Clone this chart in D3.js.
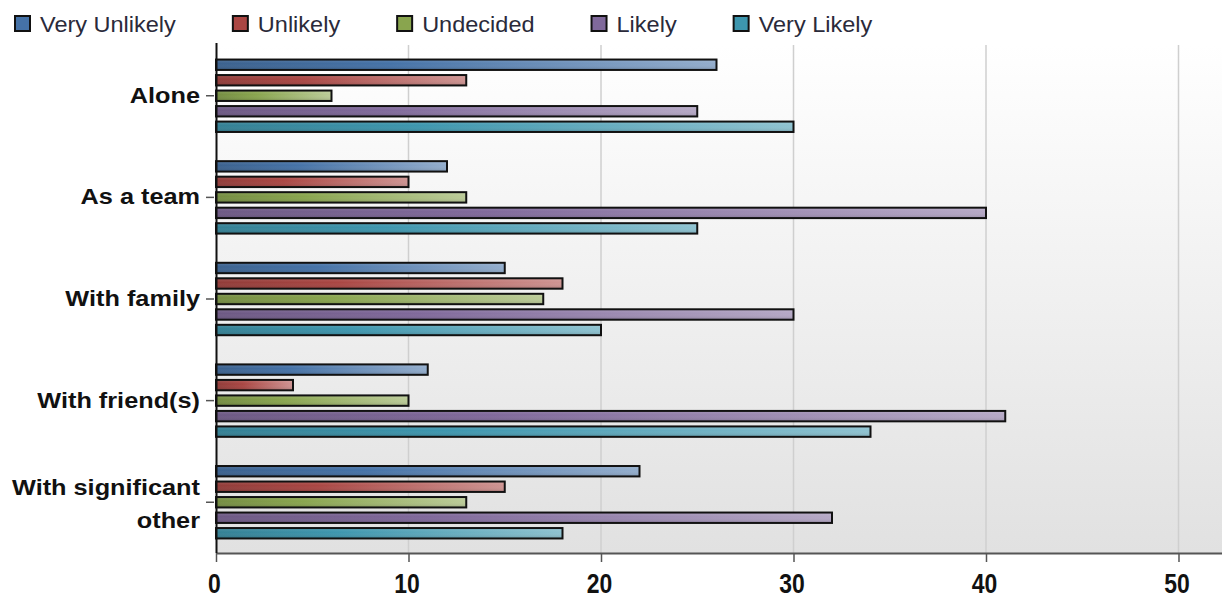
<!DOCTYPE html>
<html>
<head>
<meta charset="utf-8">
<script src="https://cdn.jsdelivr.net/npm/d3@7/dist/d3.min.js"></script>
<style>
  html, body { margin: 0; padding: 0; background: #fff; }
  svg { display: block; font-family: "Liberation Sans", Arial, sans-serif; }
</style>
</head>
<body>
<svg id="chart" width="1224" height="602"></svg>
<script>
// Survey answers: how likely respondents are to take part, by setting
const categories = ["Alone", "As a team", "With family", "With friend(s)", "With significant other"];
const seriesNames = ["Very Unlikely", "Unlikely", "Undecided", "Likely", "Very Likely"];
const veryUnlikely = [26, 12, 15, 11, 22];
const unlikely     = [13, 10, 18, 4, 15];
const undecided    = [6, 13, 17, 10, 13];
const likely       = [25, 40, 30, 41, 32];
const veryLikely   = [30, 25, 20, 34, 18];
const xTicks = [0, 10, 20, 30, 40, 50];

const seriesValues = [veryUnlikely, unlikely, undecided, likely, veryLikely];
const baseColors = ["#4572A7", "#AA4643", "#89A54E", "#80699B", "#3D96AE"];

const svg = d3.select("#chart");
const margin = { left: 216, right: 2, top: 45, bottom: 49 };
const W = 1224, H = 602;
const plotBottom = H - margin.bottom;

const x = d3.scaleLinear().domain([0, 52.26]).range([margin.left, W - margin.right]);
const y0 = d3.scaleBand().domain(categories).range([margin.top, plotBottom]).paddingInner(0.237).paddingOuter(0.118);
const y1 = d3.scaleBand().domain(seriesNames).range([0, y0.bandwidth()]).paddingInner(0.2).paddingOuter(0.1);

const defs = svg.append("defs");

// plot area background fades from white to light grey
const bg = defs.append("linearGradient").attr("id", "plotBg")
  .attr("x1", 0).attr("y1", 0).attr("x2", 0).attr("y2", 1);
bg.append("stop").attr("offset", "0%").attr("stop-color", "#ffffff");
bg.append("stop").attr("offset", "100%").attr("stop-color", "#e1e1e1");

// horizontal gradient per series: darker at the base, lighter at the tip
baseColors.forEach((c, i) => {
  const g = defs.append("linearGradient").attr("id", "barGrad" + i)
    .attr("x1", 0).attr("y1", 0).attr("x2", 1).attr("y2", 0);
  g.append("stop").attr("offset", "0%").attr("stop-color", d3.color(c).darker(0.45));
  g.append("stop").attr("offset", "35%").attr("stop-color", c);
  g.append("stop").attr("offset", "100%").attr("stop-color", d3.interpolateRgb(c, "#ffffff")(0.42));
});
// slight shading towards the bottom edge of each bar
const hl = defs.append("linearGradient").attr("id", "barShine")
  .attr("x1", 0).attr("y1", 0).attr("x2", 0).attr("y2", 1);
hl.append("stop").attr("offset", "0%").attr("stop-color", "#fff").attr("stop-opacity", 0.12);
hl.append("stop").attr("offset", "40%").attr("stop-color", "#fff").attr("stop-opacity", 0);
hl.append("stop").attr("offset", "100%").attr("stop-color", "#000").attr("stop-opacity", 0.15);

svg.append("rect")
  .attr("x", margin.left).attr("y", margin.top)
  .attr("width", W - margin.right - margin.left).attr("height", plotBottom - margin.top)
  .attr("fill", "url(#plotBg)");

// vertical grid lines
svg.append("g").selectAll("line").data(xTicks.filter(t => t > 0)).join("line")
  .attr("x1", d => x(d)).attr("x2", d => x(d))
  .attr("y1", margin.top).attr("y2", plotBottom)
  .attr("stroke", "#cfcfcf").attr("stroke-width", 1.5);

// bars
const groups = svg.append("g").selectAll("g").data(categories).join("g")
  .attr("transform", d => `translate(0,${y0(d)})`);

groups.each(function(cat, ci) {
  const g = d3.select(this);
  seriesNames.forEach((s, si) => {
    const v = seriesValues[si][ci];
    const by = y1(s) + 1, bh = y1.bandwidth() - 2;
    g.append("rect")
      .attr("x", x(0)).attr("y", by)
      .attr("width", x(v) - x(0)).attr("height", bh)
      .attr("fill", `url(#barGrad${si})`);
    g.append("rect")
      .attr("x", x(0)).attr("y", by)
      .attr("width", x(v) - x(0)).attr("height", bh)
      .attr("fill", "url(#barShine)")
      .attr("stroke", "#111").attr("stroke-width", 2);
  });
});

// x axis
const xAxis = svg.append("g").attr("transform", `translate(0,${plotBottom})`)
  .call(d3.axisBottom(x).tickValues(xTicks).tickSize(9).tickFormat(d3.format("d")));
xAxis.select(".domain").attr("stroke", "#555").attr("stroke-width", 2)
  .attr("d", `M${margin.left},0.5H${W - margin.right}`);
xAxis.selectAll(".tick line").attr("stroke", "#555").attr("stroke-width", 1.5);
xAxis.selectAll(".tick text").remove();
xAxis.selectAll(".tick").append("text")
  .attr("transform", "translate(-2,40) scale(0.85,1.03)")
  .attr("text-anchor", "middle")
  .attr("font-size", 27).attr("font-weight", "bold").attr("fill", "#111")
  .text(d => d);

// y axis
const yAxis = svg.append("g").attr("transform", `translate(${margin.left},0)`)
  .call(d3.axisLeft(y0).tickSize(10).tickFormat(""));
yAxis.select(".domain").attr("stroke", "#111").attr("stroke-width", 2)
  .attr("d", `M0.5,${margin.top - 2}V${plotBottom}`);
yAxis.selectAll(".tick line").attr("stroke", "#555").attr("stroke-width", 1.5).attr("x1", -2);

const catLines = { "With significant other": ["With significant", "other"] };
yAxis.selectAll(".tick").each(function(d) {
  const lines = catLines[d] || [d];
  const t = d3.select(this);
  const offsets = lines.length === 1 ? [7] : [-7, 26];
  lines.forEach((ln, i) => {
    t.append("text")
      .attr("transform", `translate(-16,${offsets[i]}) scale(1.15,1.03)`)
      .attr("text-anchor", "end")
      .attr("font-size", 22).attr("font-weight", "bold").attr("fill", "#111")
      .text(ln);
  });
});

// legend
const legend = svg.append("g");
let lx = 14;
seriesNames.forEach((s, i) => {
  const item = legend.append("g").attr("transform", `translate(${lx},0)`);
  item.append("rect").attr("x", 1).attr("y", 16).attr("width", 15).attr("height", 15)
    .attr("fill", baseColors[i]).attr("stroke", "#111").attr("stroke-width", 2);
  const txt = item.append("text")
    .attr("transform", "translate(26,32) scale(1.12,1.05)")
    .attr("font-size", 21).attr("fill", "#2a2a3a")
    .text(s);
  const w = txt.node().getComputedTextLength() * 1.12;
  lx += 26 + w + 56;
});
</script>
</body>
</html>
